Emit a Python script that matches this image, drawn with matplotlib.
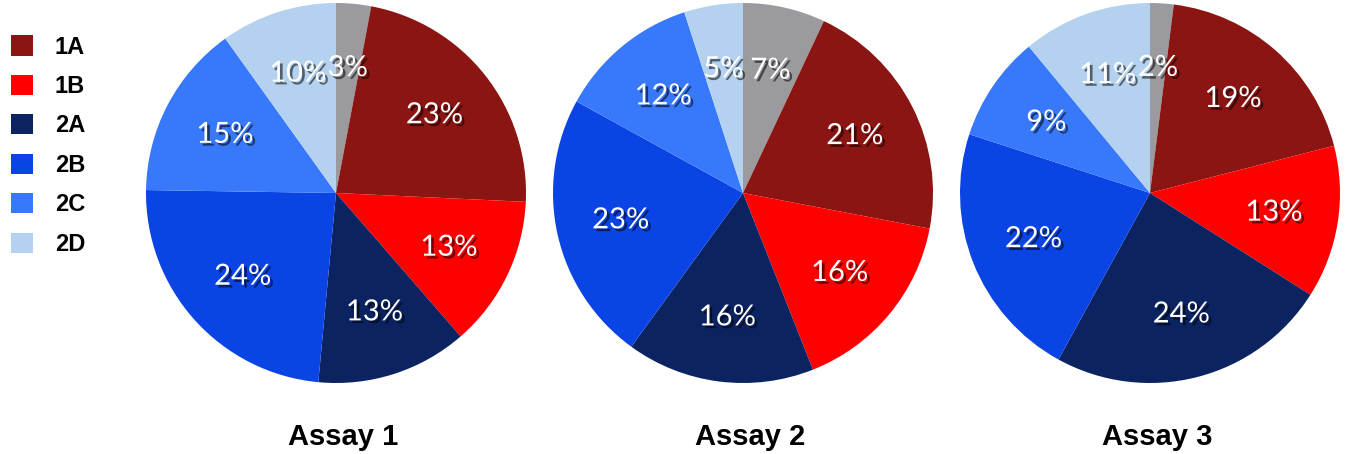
import matplotlib
matplotlib.use("Agg")
import matplotlib.pyplot as plt
import matplotlib.patheffects as pe
from matplotlib.patches import Patch

# slice order: clockwise from 12 o'clock, grey slice first (unlabelled in legend)
groups = ["other", "1A", "1B", "2A", "2B", "2C", "2D"]
colors = ["#9b9a9f", "#8b1512", "#fd0101", "#0b2360", "#0a44e4", "#3879fb", "#b4d2f0"]

assay1 = [3, 23, 13, 13, 24, 15, 10]
assay2 = [7, 21, 16, 16, 23, 12, 5]
assay3 = [2, 19, 13, 24, 22, 9, 11]
assays = [assay1, assay2, assay3]
titles = ["Assay 1", "Assay 2", "Assay 3"]

fig = plt.figure(figsize=(13.49, 4.54), dpi=100)

shadow = [pe.SimplePatchShadow(offset=(2, -2), shadow_rgbFace="black", alpha=0.55),
          pe.Normal()]

lefts = [146, 553, 960]
for left, vals, title in zip(lefts, assays, titles):
    ax = fig.add_axes([left / 1349, 71 / 454, 380 / 1349, 380 / 454])
    labels = [str(v) + "%" for v in vals]
    wedges, texts = ax.pie(vals, colors=colors, startangle=90, counterclock=False,
                           labels=labels, labeldistance=0.66,
                           wedgeprops=dict(linewidth=0),
                           textprops=dict(color="white", fontsize=21, family="Lato",
                                          ha="center", va="center"))
    for t in texts:
        t.set_path_effects(shadow)
    ax.set_xlim(-1, 1)
    ax.set_ylim(-1, 1)
    ax.set_aspect("equal")
    ax.text(0.04, -1.284, title, ha="center", va="center", fontsize=21,
            fontweight="bold", family="Liberation Sans", clip_on=False)

handles = [Patch(facecolor=c, edgecolor="none", label=g)
           for g, c in zip(groups[1:], colors[1:])]
fig.legend(handles=handles, loc="upper left", bbox_to_anchor=(2 / 1349, 1 - 26 / 454),
           frameon=False, handlelength=0.93, handleheight=0.93, handletextpad=0.9,
           labelspacing=0.69, borderaxespad=0,
           prop=dict(family="Liberation Sans", weight="bold", size=17))

fig.savefig("out.png", dpi=100)
